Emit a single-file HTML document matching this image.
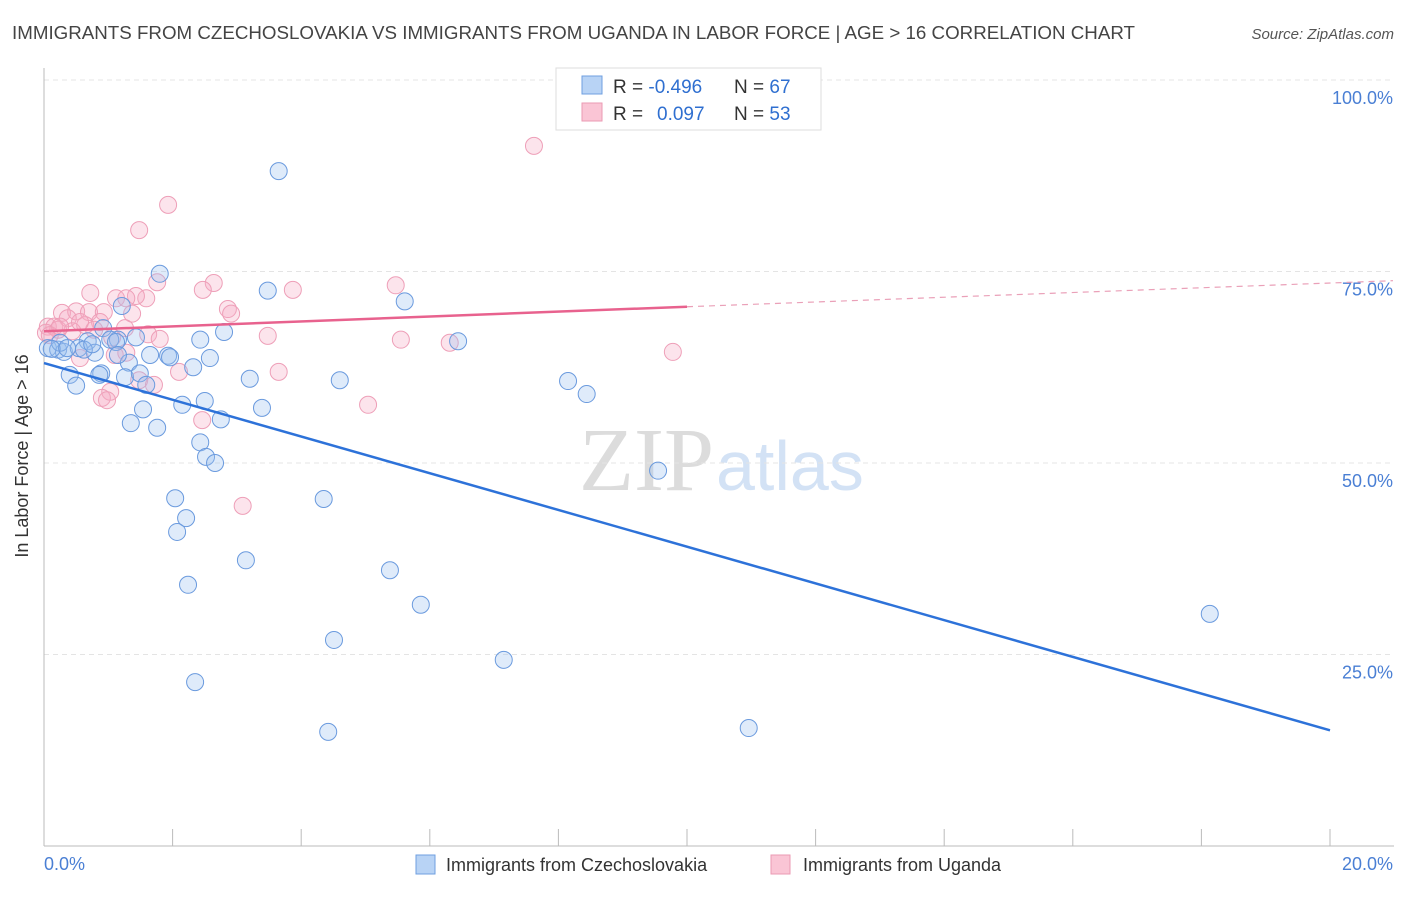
<!DOCTYPE html>
<html><head><meta charset="utf-8"><style>
body{margin:0;background:#fff;font-family:"Liberation Sans",sans-serif;}
</style></head><body>
<svg width="1406" height="892" xmlns="http://www.w3.org/2000/svg" font-family="Liberation Sans, sans-serif">
<text x="12" y="39" font-size="18" fill="#444" textLength="1123" lengthAdjust="spacingAndGlyphs">IMMIGRANTS FROM CZECHOSLOVAKIA VS IMMIGRANTS FROM UGANDA IN LABOR FORCE | AGE &gt; 16 CORRELATION CHART</text>
<text x="1394" y="39" font-size="15" fill="#555" text-anchor="end" font-style="italic">Source: ZipAtlas.com</text>
<text x="714" y="490" font-size="90" fill="#dcdcdc" text-anchor="end" font-family="Liberation Serif, serif">ZIP</text>
<text x="716" y="490" font-size="70" fill="#d3e2f5">atlas</text>
<g id="grid"></g>
<g id="axes"></g>
<g id="pts"></g>
<g id="lines"></g>
<text x="28" y="456" font-size="18" fill="#333" text-anchor="middle" transform="rotate(-90 28 456)">In Labor Force | Age &gt; 16</text>
<g>
<rect x="556" y="68" width="265" height="62" fill="#fff" stroke="#ddd"/>
<rect x="582" y="76" width="20" height="18" fill="#b8d3f5" stroke="#6f9fe0"/>
<rect x="582" y="103" width="20" height="18" fill="#fac5d5" stroke="#eb9ab3"/>
<text x="613" y="93" font-size="19" fill="#333">R = <tspan fill="#2f6fd0">-0.496</tspan></text>
<text x="734" y="93" font-size="19" fill="#333">N = <tspan fill="#2f6fd0">67</tspan></text>
<text x="613" y="120" font-size="19" fill="#333">R = </text><text x="657" y="120" font-size="19" fill="#2f6fd0">0.097</text>
<text x="734" y="120" font-size="19" fill="#333">N = <tspan fill="#2f6fd0">53</tspan></text>
</g>
<g>
<rect x="416" y="855" width="19" height="19" fill="#b8d3f5" stroke="#6f9fe0"/>
<text x="446" y="871" font-size="18" fill="#333">Immigrants from Czechoslovakia</text>
<rect x="771" y="855" width="19" height="19" fill="#fac5d5" stroke="#eb9ab3"/>
<text x="803" y="871" font-size="18" fill="#333">Immigrants from Uganda</text>
</g>
</svg>
<script>
const yTicks=[100,75,50,25];
const yTickLabels=["100.0%","75.0%","50.0%","25.0%"];
const xTickCount=10;
const blueX=[3.65,1.80,3.48,5.61,1.21,2.80,6.44,0.92,1.43,0.68,1.15,0.06,0.22,0.31,0.54,0.79,1.65,1.93,1.96,2.58,1.32,2.32,0.40,0.89,0.86,1.26,1.49,1.59,0.50,3.20,4.60,8.15,8.44,2.15,2.50,3.39,1.54,2.75,1.35,1.76,2.43,2.52,2.66,9.55,2.04,4.35,2.21,2.07,3.14,5.38,2.24,5.86,18.13,4.51,7.15,2.35,10.96,4.42,0.25,0.12,1.03,1.12,2.43,0.36,0.62,0.75,1.15];
const blueY=[88.1,74.7,72.5,71.1,70.5,67.1,65.9,67.6,66.4,65.9,66.1,65.0,64.8,64.5,65.0,64.4,64.1,64.0,63.8,63.7,63.1,62.5,61.5,61.7,61.5,61.2,61.7,60.2,60.1,61.0,60.8,60.7,59.0,57.6,58.1,57.2,57.0,55.7,55.2,54.6,52.7,50.8,50.0,49.0,45.4,45.3,42.8,41.0,37.3,36.0,34.1,31.5,30.3,26.9,24.3,21.4,15.4,14.9,65.7,64.9,66.1,65.8,66.1,65.0,64.8,65.5,64.1];
const pinkX=[7.62,1.93,1.48,2.64,5.47,3.87,2.47,0.72,1.76,1.59,1.43,1.12,1.28,2.86,2.91,0.28,0.50,0.70,0.93,0.37,0.87,1.37,0.64,0.06,0.16,0.22,0.03,1.26,1.62,1.80,3.48,5.55,6.31,9.78,1.10,0.56,1.28,2.10,3.65,1.48,1.71,1.03,0.90,0.98,5.04,2.46,3.09,0.09,0.44,0.25,0.78,1.06,0.56];
const pinkY=[91.4,83.7,80.4,73.5,73.2,72.6,72.6,72.2,73.6,71.5,71.8,71.5,71.5,70.1,69.5,69.6,69.8,69.7,69.7,68.9,68.4,69.5,68.0,67.8,67.8,67.4,67.0,67.6,66.8,66.2,66.6,66.1,65.7,64.5,64.1,63.7,64.4,61.9,61.9,60.8,60.2,59.3,58.5,58.2,57.6,55.6,44.4,66.7,67.2,67.8,67.4,66.4,68.4];
const blueFit=[63.05,15.1];
const pinkFit=[67.2,70.4,73.8];
const NS="http://www.w3.org/2000/svg";
const sx=v=>44+v*64.3, sy=v=>846-v*7.66;
function mk(t,a,p){const e=document.createElementNS(NS,t);for(const k in a)e.setAttribute(k,a[k]);document.getElementById(p).appendChild(e);return e;}
yTicks.forEach((t,i)=>{
 const g=mk('line',{x1:44,x2:1394,y1:sy(t),y2:sy(t),stroke:'#e4e4e4','stroke-dasharray':'5,4'},'grid');
 
 
 const tx=mk('text',{x:1393,y:sy(t)+24,'font-size':18,fill:'#4a7fd4','text-anchor':'end'},'grid');
 tx.textContent=yTickLabels[i];
 
 
});
mk('line',{x1:44,x2:44,y1:68,y2:846,stroke:'#bbb'},'axes');
mk('line',{x1:44,x2:1394,y1:846,y2:846,stroke:'#bbb'},'axes');
for(let i=0;i<=xTickCount;i++){const t=mk('line',{x1:sx(i*2),x2:sx(i*2),y1:829,y2:846,stroke:'#bbb'},'axes');
 
 }
let l0=mk('text',{x:44,y:870,'font-size':18,fill:'#4a7fd4'},'axes');l0.textContent='0.0%';


let l1=mk('text',{x:1393,y:870,'font-size':18,fill:'#4a7fd4','text-anchor':'end'},'axes');l1.textContent='20.0%';


pinkX.forEach((x,i)=>{const c=mk('circle',{cx:sx(x),cy:sy(pinkY[i]),r:8.5,fill:'rgba(245,170,196,0.32)',stroke:'#ee9fb8','stroke-width':1},'pts');
 
 });
blueX.forEach((x,i)=>{const c=mk('circle',{cx:sx(x),cy:sy(blueY[i]),r:8.5,fill:'rgba(155,192,240,0.32)',stroke:'#6a9ade','stroke-width':1},'pts');
 
 });
const bl=mk('line',{x1:sx(0),y1:sy(blueFit[0]),x2:sx(20),y2:sy(blueFit[1]),stroke:'#2d72d9','stroke-width':2.5},'lines');


const pl=mk('line',{x1:sx(0),y1:sy(pinkFit[0]),x2:sx(10),y2:sy(pinkFit[1]),stroke:'#e8628e','stroke-width':2.5},'lines');


const pd=mk('line',{x1:sx(10),y1:sy(pinkFit[1]),x2:sx(20.98),y2:sy(pinkFit[2]),stroke:'#eaa0b8','stroke-width':1.2,'stroke-dasharray':'6,5'},'lines');


</script>
</body></html>
